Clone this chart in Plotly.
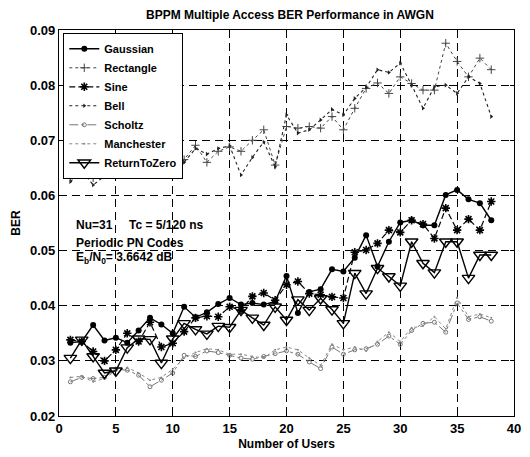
import plotly.graph_objects as go

# Number of simultaneous users
users = list(range(1, 39))

# Simulated bit error rate per pulse shape
gaussian = [0.0333, 0.0335, 0.0365, 0.0337, 0.0342, 0.0333, 0.0355, 0.0378, 0.0366, 0.0350,
            0.0398, 0.0379, 0.0388, 0.0403, 0.0414, 0.0402, 0.0405, 0.0402, 0.0408, 0.0454,
            0.0387, 0.0425, 0.0430, 0.0466, 0.0462, 0.0487, 0.0528, 0.0471, 0.0516, 0.0551,
            0.0555, 0.0546, 0.0546, 0.0601, 0.0610, 0.0593, 0.0586, 0.0555]
rectangle = [0.0635, 0.0650, 0.0632, 0.0640, 0.0648, 0.0655, 0.0660, 0.0665, 0.0658, 0.0647,
             0.0665, 0.0691, 0.0660, 0.0680, 0.0688, 0.0680, 0.0700, 0.0719, 0.0655, 0.0725,
             0.0722, 0.0725, 0.0722, 0.0743, 0.0719, 0.0758, 0.0794, 0.0804, 0.0785, 0.0815,
             0.0803, 0.0791, 0.0791, 0.0876, 0.0843, 0.0815, 0.0849, 0.0828]
sine = [0.0338, 0.0335, 0.0317, 0.0300, 0.0320, 0.0350, 0.0335, 0.0370, 0.0325, 0.0332,
        0.0353, 0.0378, 0.0381, 0.0380, 0.0398, 0.0392, 0.0417, 0.0423, 0.0410, 0.0438,
        0.0444, 0.0422, 0.0420, 0.0416, 0.0414, 0.0497, 0.0501, 0.0513, 0.0537, 0.0533,
        0.0555, 0.0548, 0.0522, 0.0577, 0.0537, 0.0557, 0.0537, 0.0589]
bell = [0.0625, 0.0645, 0.0619, 0.0635, 0.0655, 0.0660, 0.0649, 0.0660, 0.0665, 0.0655,
        0.0660, 0.0685, 0.0675, 0.0685, 0.0690, 0.0637, 0.0669, 0.0697, 0.0652, 0.0746,
        0.0713, 0.0719, 0.0737, 0.0756, 0.0746, 0.0776, 0.0796, 0.0828, 0.0823, 0.0840,
        0.0800, 0.0758, 0.0797, 0.0800, 0.0785, 0.0815, 0.0803, 0.0743]
scholtz = [0.0262, 0.0270, 0.0268, 0.0270, 0.0285, 0.0283, 0.0274, 0.0253, 0.0265, 0.0278,
           0.0310, 0.0308, 0.0318, 0.0315, 0.0310, 0.0305, 0.0303, 0.0308, 0.0313, 0.0318,
           0.0312, 0.0298, 0.0286, 0.0325, 0.0312, 0.0320, 0.0322, 0.0330, 0.0345, 0.0330,
           0.0355, 0.0368, 0.0370, 0.0352, 0.0405, 0.0375, 0.0380, 0.0372]
manchester = [0.0270, 0.0272, 0.0262, 0.0268, 0.0282, 0.0288, 0.0278, 0.0265, 0.0270, 0.0285,
              0.0305, 0.0315, 0.0322, 0.0320, 0.0312, 0.0312, 0.0308, 0.0305, 0.0320, 0.0325,
              0.0320, 0.0305, 0.0292, 0.0330, 0.0320, 0.0325, 0.0318, 0.0335, 0.0352, 0.0335,
              0.0360, 0.0363, 0.0380, 0.0358, 0.0415, 0.0380, 0.0385, 0.0378]
return_to_zero = [0.0305, 0.0338, 0.0308, 0.0278, 0.0282, 0.0324, 0.0340, 0.0339, 0.0296, 0.0340,
                  0.0368, 0.0357, 0.0349, 0.0363, 0.0361, 0.0392, 0.0378, 0.0365, 0.0398, 0.0374,
                  0.0411, 0.0392, 0.0413, 0.0393, 0.0368, 0.0459, 0.0422, 0.0468, 0.0453, 0.0436,
                  0.0516, 0.0477, 0.0460, 0.0516, 0.0516, 0.0450, 0.0492, 0.0492]

x_ticks = [0, 5, 10, 15, 20, 25, 30, 35, 40]
y_ticks = [0.02, 0.03, 0.04, 0.05, 0.06, 0.07, 0.08, 0.09]

FONT = "Liberation Sans, Arial, sans-serif"

series = [
    ("Gaussian", gaussian, dict(color="black", width=1.4, dash="solid"),
     dict(symbol="circle", size=6, color="black")),
    ("Rectangle", rectangle, dict(color="#444444", width=1, dash="dot"),
     dict(symbol="cross-thin-open", size=6, color="#444444", line=dict(width=1, color="#444444"))),
    ("Sine", sine, dict(color="black", width=1.2, dash="6px,3px"),
     dict(symbol="asterisk-open", size=7, color="black", line=dict(width=1.6, color="black"))),
    ("Bell", bell, dict(color="#222222", width=1.1, dash="dot"),
     dict(symbol="triangle-right", size=4, color="#222222")),
    ("Scholtz", scholtz, dict(color="#777777", width=1, dash="dashdot"),
     dict(symbol="circle-open", size=4, color="#777777", line=dict(width=1, color="#777777"))),
    ("Manchester", manchester, dict(color="#888888", width=1, dash="dot"),
     dict(symbol="circle", size=2, color="#888888")),
    ("ReturnToZero", return_to_zero, dict(color="black", width=1.4, dash="solid"),
     dict(symbol="triangle-down-open", size=11, color="black", line=dict(width=1.4, color="black"))),
]

fig = go.Figure()
for name, values, line, marker in series:
    fig.add_trace(go.Scatter(x=users, y=values, name=name, mode="lines+markers",
                             line=line, marker=marker))

# Simulation parameters written inside the axes
notes = [
    (0.0546, "<b>Nu=31     Tc = 5/120 ns</b>"),
    (0.0513, "<b>Periodic PN Codes</b>"),
    (0.0486, "<b>E<sub>b</sub>/N<sub>0</sub>= 3.6642 dB</b>"),
]
for yv, txt in notes:
    fig.add_annotation(x=1.3, y=yv, text=txt, showarrow=False, xanchor="left",
                       yanchor="middle", font=dict(family=FONT, size=12, color="black"))

axis_common = dict(
    showline=True, linecolor="black", linewidth=1.2, mirror="allticks",
    ticks="inside", ticklen=4, tickcolor="black",
    showgrid=True, gridcolor="black", gridwidth=1.2, griddash="8px,5px",
    zeroline=False,
    tickfont=dict(family=FONT, size=13, color="black", weight="bold"),
)

fig.update_layout(
    width=530, height=457,
    margin=dict(l=59, r=9, t=30, b=41),
    paper_bgcolor="white", plot_bgcolor="white",
    title=dict(text="<b>BPPM Multiple Access BER Performance in AWGN</b>",
               x=0.547, xanchor="center", y=0.968, yanchor="middle",
               font=dict(family=FONT, size=12, color="black")),
    xaxis=dict(range=[0, 40], tickvals=x_ticks, ticktext=[str(v) for v in x_ticks],
               title=dict(text="<b>Number of Users</b>", standoff=4,
                          font=dict(family=FONT, size=12, color="black")),
               **axis_common),
    yaxis=dict(range=[0.02, 0.09], tickvals=y_ticks, ticktext=[f"{v:.2f}" for v in y_ticks],
               title=dict(text="<b>BER</b>", standoff=6,
                          font=dict(family=FONT, size=12, color="black")),
               **axis_common),
    legend=dict(x=0.009, y=0.992, xanchor="left", yanchor="top",
                bgcolor="white", bordercolor="black", borderwidth=1.2,
                font=dict(family=FONT, size=11, color="black", weight="bold"),
                tracegroupgap=0, itemwidth=30),
    showlegend=True,
)

fig.write_html("out.html")
